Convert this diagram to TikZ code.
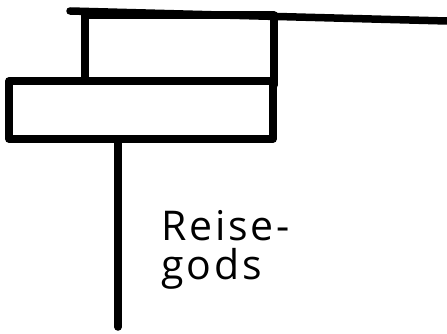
\documentclass[tikz,border=0pt]{standalone}
\usepackage{fontspec}
\newfontfamily\handfont[LetterSpace=7]{Open Sans}
\usetikzlibrary{positioning}

\begin{document}
\begin{tikzpicture}[
  x=1pt, y=-1pt,
  pen/.style={line width=7.5pt, line cap=round, line join=round, black},
  board/.style={
    rectangle, draw, pen, inner sep=0pt, outer sep=0pt, anchor=north west
  },
  label/.style={font=\handfont\fontsize{41}{39}\selectfont, align=left, anchor=north west, inner sep=0pt}
]
\useasboundingbox (0,0) rectangle (447,334);

% upper sign behind, lower sign in front
\node[board, minimum width=189pt, minimum height=70pt] (upper) at (85,15) {};
\node[board, fill=white, minimum width=264pt, minimum height=58pt] (lower) at (9,81) {};

% top rail
\coordinate (railstart) at (70,11);
\coordinate (railend) at (447,21);
\draw[pen] (railstart) -- (railend);

% post
\coordinate (foot) at (118,327);
\draw[pen] (lower.south west -| foot) -- (foot);

\node[label] (name) at (161,210) {Reise-\\gods};

\end{tikzpicture}
\end{document}
